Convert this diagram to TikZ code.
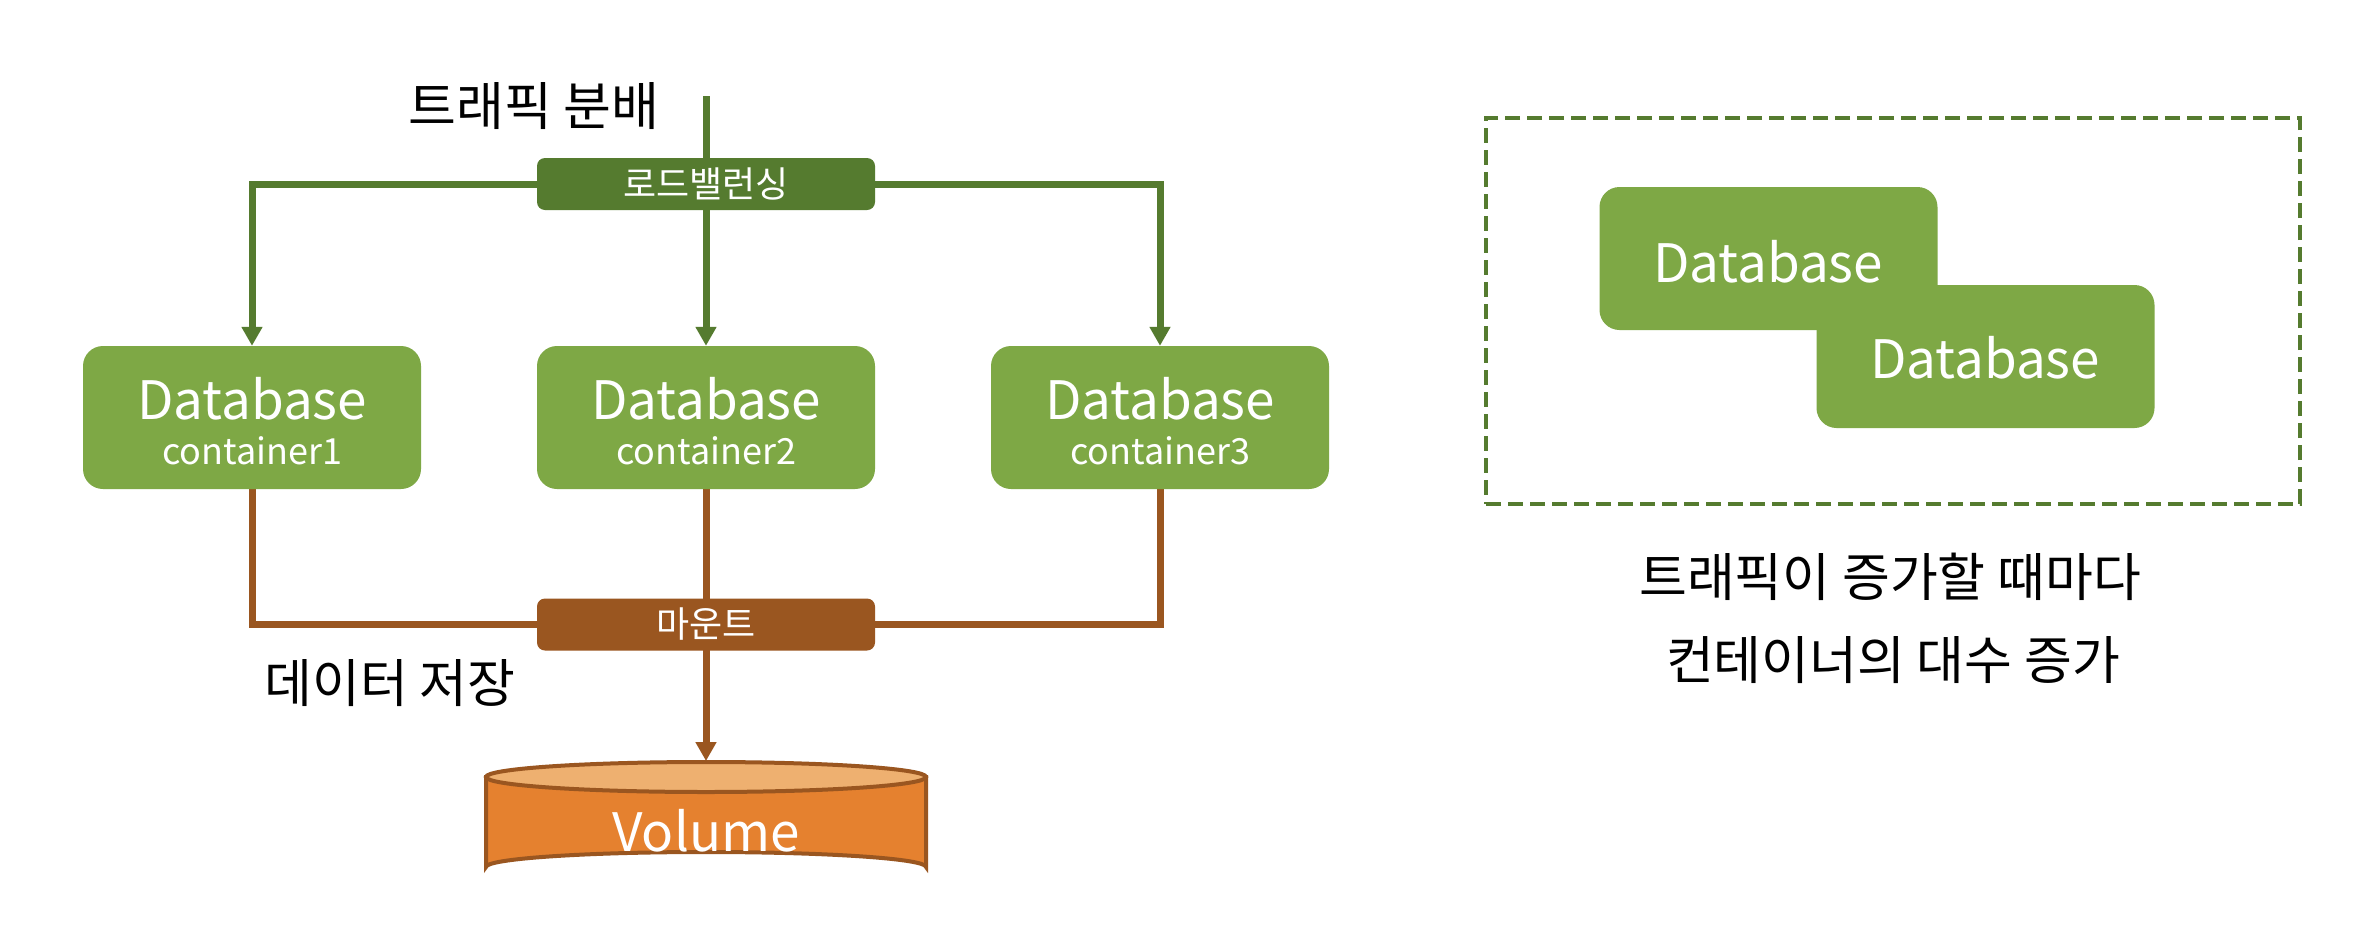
\documentclass[tikz,border=0pt]{standalone}
\usepackage{fontspec}
\setmainfont{Noto Sans CJK KR}
\usetikzlibrary{arrows.meta,backgrounds}
\definecolor{dkgreen}{HTML}{557B2F}
\definecolor{dbgreen}{HTML}{7EA845}
\definecolor{mtbrown}{HTML}{9A5620}
\definecolor{volbody}{HTML}{E5812F}
\definecolor{voltopc}{HTML}{EEB070}
\begin{document}
\begin{tikzpicture}[x=1pt,y=-1pt,
  dbbox/.style={fill=dbgreen, rounded corners=20pt, minimum width=338pt, minimum height=143pt, inner sep=0pt},
  tagbox/.style={rounded corners=8pt, minimum width=338pt, minimum height=52pt, inner sep=0pt, text=white, font=\fontsize{36}{42}\selectfont},
  gline/.style={draw=dkgreen, line width=7pt},
  bline/.style={draw=mtbrown, line width=7pt},
  arrowend/.style={-{Triangle[width=20pt,length=19pt]}},
  bigtxt/.style={font=\fontsize{52}{60}\selectfont, inner sep=0pt},
  dbtxt/.style={text=white, font=\fontsize{53}{60}\selectfont, anchor=base, inner sep=0pt},
  subtxt/.style={text=white, font=\fontsize{36}{42}\selectfont, anchor=base, inner sep=0pt}]
\useasboundingbox (0,0) rectangle (2366,940);

% left: database containers
\node[dbbox] (db1) at (252,417.5) {};
\node[dbtxt] (db1a) at (252,419) {Database};
\node[subtxt] (db1b) at (252,464) {container1};
\node[dbbox] (db2) at (706,417.5) {};
\node[dbtxt] (db2a) at (706,419) {Database};
\node[subtxt] (db2b) at (706,464) {container2};
\node[dbbox] (db3) at (1160,417.5) {};
\node[dbtxt] (db3a) at (1160,419) {Database};
\node[subtxt] (db3b) at (1160,464) {container3};

% tag boxes
\node[tagbox, fill=dkgreen] (lb) at (706,184) {로드밸런싱};
\node[tagbox, fill=mtbrown] (mt) at (706,624.5) {마운트};

% texts
\node[bigtxt] (t1) at (534,106) {트래픽 분배};
\node[bigtxt] (t2) at (390,683) {데이터 저장};
\node[bigtxt] (t3) at (1890,577) {트래픽이 증가할 때마다};
\node[bigtxt] (t4) at (1893,660) {컨테이너의 대수 증가};

% volume cylinder
\coordinate (voltop) at (706,761);
\path[draw=mtbrown, line width=4pt, fill=volbody] (486,777) -- (486,867) arc[start angle=180, end angle=360, x radius=220, y radius=15] -- (926,777) -- cycle;
\draw[mtbrown, line width=4pt, fill=voltopc] (706,777) ellipse [x radius=220, y radius=15];
\node[text=white, font=\fontsize{53}{60}\selectfont, anchor=base, inner sep=0pt] (vol) at (706,851) {Volume};

% right side
\node[draw=dkgreen, line width=4.5pt, dash pattern=on 15pt off 7pt, minimum width=814pt, minimum height=386pt, inner sep=0pt] (frame) at (1893,311) {};
\node[dbbox] (ra) at (1768.5,258.5) {};
\node[dbtxt] (rat) at (1768,282) {Database};
\node[dbbox] (rb) at (1985.5,356.5) {};
\node[dbtxt] (rbt) at (1985,378) {Database};

% connectors
\begin{scope}[on background layer]
\fill[white] (0,0) rectangle (2366,940);
\coordinate (top) at (706,96);
\draw[gline, arrowend] (top) -- (db2.north);
\draw[gline, arrowend] (lb.west) -| (db1.north);
\draw[gline, arrowend] (lb.east) -| (db3.north);
\draw[bline] (db1.south) |- (mt.west);
\draw[bline] (db3.south) |- (mt.east);
\draw[bline, arrowend] (db2.south) -- (voltop);
\end{scope}
\end{tikzpicture}
\end{document}
